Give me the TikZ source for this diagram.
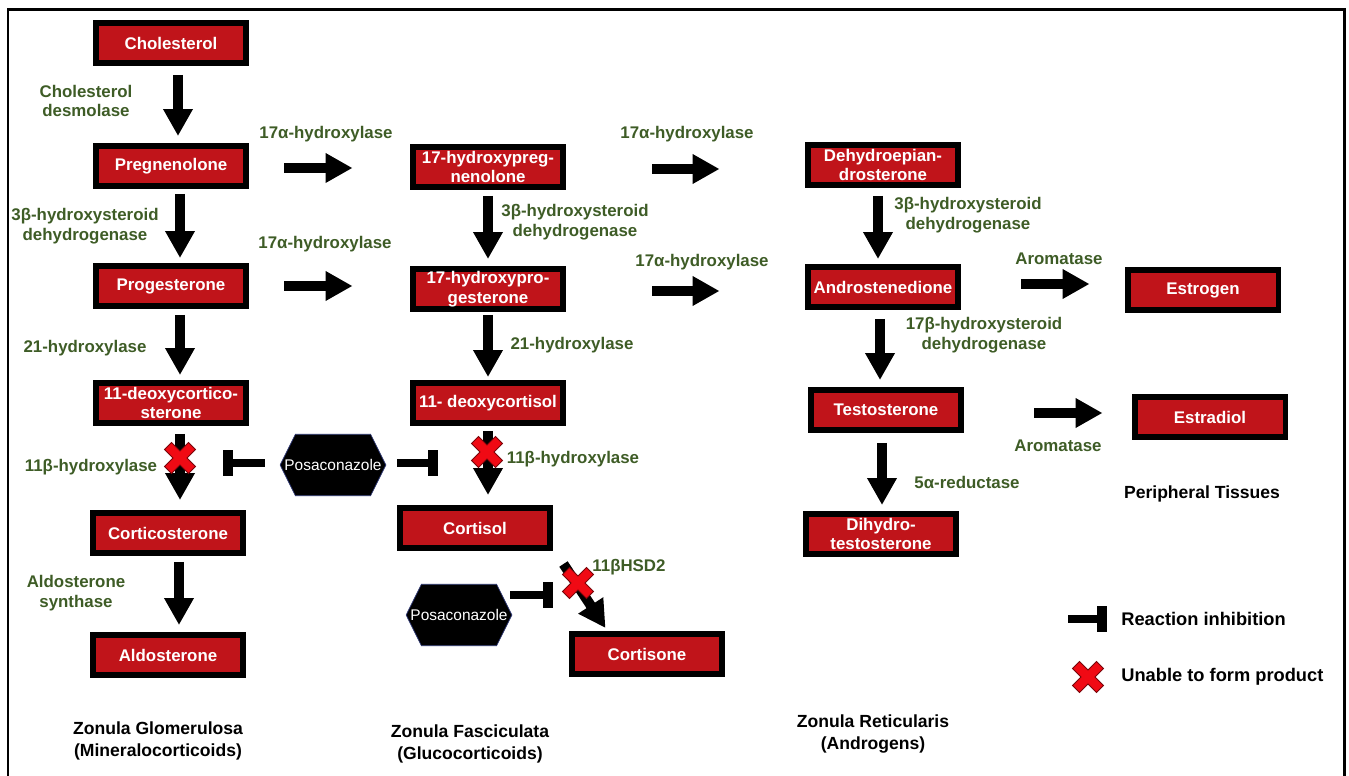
\documentclass[tikz,border=0pt]{standalone}
\usepackage{fontspec}
\setmainfont{Liberation Sans}
\usepackage{xcolor}
\usepackage{tikz}
\usetikzlibrary{arrows.meta,positioning,shapes.symbols}
\definecolor{boxred}{RGB}{192,20,26}
\definecolor{enzgreen}{RGB}{62,92,38}
\definecolor{xred}{RGB}{240,10,20}
\definecolor{hexline}{RGB}{40,50,110}

\begin{document}
\begin{tikzpicture}[
  x=0.02cm, y=-0.02cm,
  chem/.style={draw=black, line width=0.12cm, fill=boxred, text=white, minimum width=3.02cm, minimum height=0.8cm,
               inner sep=0pt, align=center, font=\bfseries\fontsize{9.6}{11.3}\selectfont},
  enz/.style={text=enzgreen, inner sep=0pt, align=center, font=\bfseries\fontsize{9.6}{11.3}\selectfont},
  zonelbl/.style={inner sep=0pt, align=center, font=\bfseries\fontsize{10}{12.5}\selectfont},
  legtext/.style={inner sep=0pt, anchor=west, font=\bfseries\fontsize{10.4}{12}\selectfont},
  drug/.style={signal, signal to=east and west, signal pointer angle=127, fill=black, draw=hexline, thin,
               text=white, inner xsep=-0.22cm, inner ysep=0.5cm, font=\fontsize{8.8}{10}\selectfont},
  arr/.style={line width=0.2cm, -{Triangle[length=0.54cm, width=0.56cm]}},
  inh/.style={line width=0.16cm, -{Rectangle[length=0.2cm, width=0.54cm]}},
  redx/.pic={\fill[xred, draw=xred!50!black, line width=0.5pt, rotate=45]
               (5,5) -- (17,5) -- (17,-5) -- (5,-5) -- (5,-17) -- (-5,-17) -- (-5,-5)
               -- (-17,-5) -- (-17,5) -- (-5,5) -- (-5,17) -- (5,17) -- cycle;}
]
  \useasboundingbox (0,0) rectangle (1349,776);
  \draw[line width=0.06cm] (8,776) -- (8,10) -- (1344,10) -- (1344,776);

  % Zonula glomerulosa
  \node[chem] (chol) at (171,43) {Cholesterol};
  \node[chem] (preg) at (171,166) {Pregnenolone};
  \node[chem] (prog) at (171,286) {Progesterone};
  \node[chem] (doc) at (171,403) {11-deoxycortico-\\sterone};
  \node[chem] (cort) at (168,533) {Corticosterone};
  \node[chem] (aldo) at (168,655) {Aldosterone};

  % Zonula fasciculata
  \node[chem] (ohpreg) at (488,167) {17-hydroxypreg-\\nenolone};
  \node[chem] (ohprog) at (488,289) {17-hydroxypro-\\gesterone};
  \node[chem] (dcortisol) at (488,403) {11- deoxycortisol};
  \node[chem] (cortisol) at (475,528) {Cortisol};
  \node[chem] (cortisone) at (647,654) {Cortisone};

  % Zonula reticularis
  \node[chem] (dhea) at (883,165) {Dehydroepian-\\drosterone};
  \node[chem] (andro) at (883,287) {Androstenedione};
  \node[chem] (testo) at (886,410) {Testosterone};
  \node[chem] (dht) at (881,534) {Dihydro-\\testosterone};

  % Peripheral tissues
  \node[chem] (estrogen) at (1203,290) {Estrogen};
  \node[chem] (estradiol) at (1210,417) {Estradiol};

  % Enzymes
  \node[enz] (desm) at (86,101) {Cholesterol\\desmolase};
  \node[enz] (hyd1) at (326,134) {17α-hydroxylase};
  \node[enz] (hyd2) at (687,134) {17α-hydroxylase};
  \node[enz] (hsd1) at (85,226) {3β-hydroxysteroid\\dehydrogenase};
  \node[enz] (hyd3) at (325,244) {17α-hydroxylase};
  \node[enz] (hsd2) at (575,222) {3β-hydroxysteroid\\dehydrogenase};
  \node[enz] (hyd4) at (702,262) {17α-hydroxylase};
  \node[enz] (hsd3) at (968,215) {3β-hydroxysteroid\\dehydrogenase};
  \node[enz] (arom1) at (1059,259) {Aromatase};
  \node[enz] (ohase1) at (85,348) {21-hydroxylase};
  \node[enz] (ohase2) at (572,345) {21-hydroxylase};
  \node[enz] (hsd4) at (984,335) {17β-hydroxysteroid\\dehydrogenase};
  \node[enz] (bhyd1) at (91,467) {11β-hydroxylase};
  \node[enz] (bhyd2) at (573,459) {11β-hydroxylase};
  \node[enz] (arom2) at (1058,446) {Aromatase};
  \node[enz] (red5) at (967,482) {5α-reductase};
  \node[enz] (hsd11) at (629,567) {11βHSD2};
  \node[enz] (aldos) at (76,593) {Aldosterone\\synthase};

  % Inhibitor
  \node[drug] (pos1) at (333,465) {Posaconazole};
  \node[drug] (pos2) at (459,615) {Posaconazole};

  % Zone labels
  \node[zonelbl] (zg) at (158,741) {Zonula Glomerulosa\\(Mineralocorticoids)};
  \node[zonelbl] (zf) at (470,744) {Zonula Fasciculata\\(Glucocorticoids)};
  \node[zonelbl] (zr) at (873,734) {Zonula Reticularis\\(Androgens)};
  \node[zonelbl] (pt) at (1202,494) {Peripheral Tissues};

  % Legend
  \node[legtext] (leginh) at (1121,619) {Reaction inhibition};
  \node[legtext] (legx) at (1121,677) {Unable to form product};
  \coordinate (legA) at (1068,619);

  % Vertical arrows
  \draw[arr, shorten <=0.18cm, shorten >=0.14cm] ([xshift=0.14cm]chol.south) -- ([xshift=0.14cm]chol.south |- preg.north);
  \draw[arr, shorten <=0.1cm, shorten >=0.1cm] ([xshift=0.18cm]preg.south) -- ([xshift=0.18cm]preg.south |- prog.north);
  \draw[arr, shorten <=0.12cm, shorten >=0.1cm] ([xshift=0.18cm]prog.south) -- ([xshift=0.18cm]prog.south |- doc.north);
  \draw[arr, shorten <=0.16cm, shorten >=0.2cm] ([xshift=0.18cm]doc.south) -- ([xshift=0.18cm]doc.south |- cort.north);
  \draw[arr, shorten <=0.12cm, shorten >=0.14cm] ([xshift=0.22cm]cort.south) -- ([xshift=0.22cm]cort.south |- aldo.north);
  \draw[arr, shorten <=0.12cm, shorten >=0.14cm] (ohpreg.south) -- (ohprog.north);
  \draw[arr, shorten <=0.06cm, shorten >=0.06cm] (ohprog.south) -- (dcortisol.north);
  \draw[arr, shorten <=0.1cm, shorten >=0.2cm] (dcortisol.south) -- (dcortisol.south |- cortisol.north);
  \draw[arr, shorten <=0.16cm, shorten >=0.1cm] ([xshift=-0.1cm]dhea.south) -- ([xshift=-0.1cm]dhea.south |- andro.north);
  \draw[arr, shorten <=0.18cm, shorten >=0.14cm] ([xshift=-0.06cm]andro.south) -- ([xshift=-0.06cm]andro.south |- testo.north);
  \draw[arr, shorten <=0.2cm, shorten >=0.12cm] ([xshift=-0.08cm]testo.south) -- ([xshift=-0.08cm]testo.south |- dht.north);
  \draw[arr] ([xshift=0.2cm,yshift=-0.26cm]cortisol.south east) -- ([xshift=0.74cm,yshift=0.06cm]cortisone.north west);

  % Horizontal arrows
  \draw[arr, shorten <=0.7cm, shorten >=1.14cm] ([yshift=-0.04cm]preg.east) -- ([yshift=-0.04cm]preg.east -| ohpreg.west);
  \draw[arr, shorten <=0.7cm, shorten >=1.14cm] (prog.east) -- (prog.east -| ohprog.west);
  \draw[arr, shorten <=1.72cm, shorten >=1.7cm] ([yshift=-0.04cm]ohpreg.east) -- ([yshift=-0.04cm]ohpreg.east -| dhea.west);
  \draw[arr, shorten <=1.72cm, shorten >=1.7cm] ([yshift=-0.04cm]ohprog.east) -- ([yshift=-0.04cm]ohprog.east -| andro.west);
  \draw[arr, shorten <=1.2cm, shorten >=0.7cm] ([yshift=0.06cm]andro.east) -- ([yshift=0.06cm]andro.east -| estrogen.west);
  \draw[arr, shorten <=1.4cm, shorten >=0.58cm] ([yshift=-0.06cm]testo.east) -- ([yshift=-0.06cm]testo.east -| estradiol.west);

  % Inhibition
  \coordinate (inhA) at (223,463);
  \coordinate (inhB) at (438,463);
  \coordinate (inhC) at (553,595);
  \draw[inh, shorten <=0.3cm] (pos1.west |- inhA) -- (inhA);
  \draw[inh, shorten <=0.22cm] (pos1.east |- inhB) -- (inhB);
  \draw[inh] ([xshift=-0.04cm]pos2.east |- inhC) -- (inhC);
  \draw[inh] (legA) -- ([xshift=-0.28cm]leginh.west);

  % Blocked steps
  \pic at (180,458) {redx};
  \pic at (487,452) {redx};
  \pic at (578,583) {redx};
  \pic at (1088,677) {redx};
\end{tikzpicture}
\end{document}
